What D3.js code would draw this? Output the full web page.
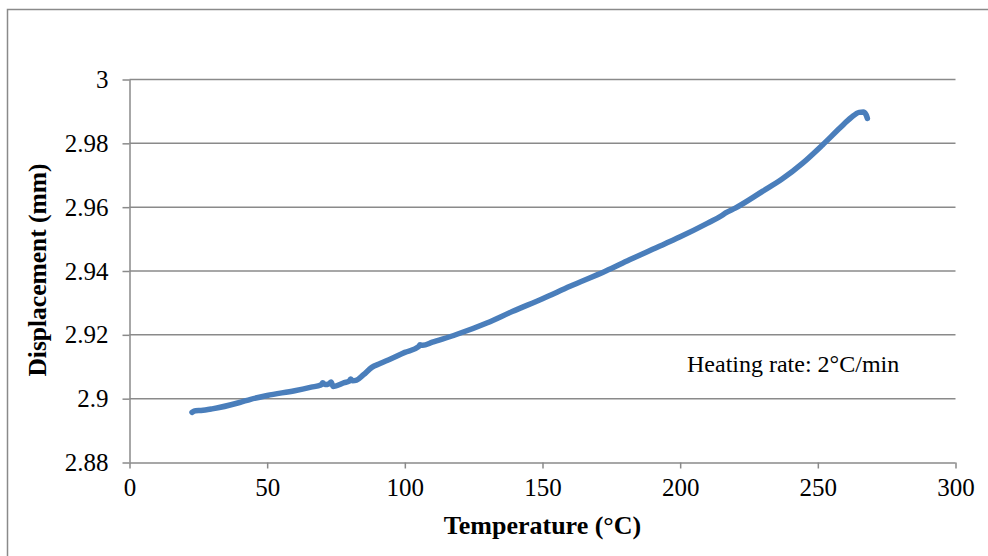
<!DOCTYPE html>
<html><head><meta charset="utf-8">
<script src="https://cdn.jsdelivr.net/npm/d3@7"></script>
<style>html,body{margin:0;padding:0;background:#fff;}svg{display:block;}</style>
</head><body>
<svg id="c" width="988" height="556"></svg>
<script>
const temperature = [22.7,24,26,30,40,44,50,60,66,69.5,70.2,71,72.5,73.2,74,78,79.8,80.3,81,82.5,85,88,91,95,100,105,105.5,106.5,110,118.7,130,139,150,160,173,181.6,190,200,210,215,216.5,220,230,237,244.5,251.7,258,262,265,266.5,267.5,268];
const displacement = [2.8957,2.8962,2.8963,2.8968,2.8988,2.8998,2.9010,2.9025,2.9036,2.9043,2.9050,2.9044,2.9047,2.9052,2.9038,2.9050,2.9055,2.9062,2.9056,2.9058,2.9075,2.9098,2.9110,2.9125,2.9145,2.9163,2.9169,2.9167,2.9177,2.9201,2.9238,2.9273,2.9313,2.9352,2.9400,2.9435,2.9468,2.9507,2.9550,2.9573,2.9582,2.9597,2.9650,2.9688,2.9738,2.9795,2.9848,2.9880,2.9897,2.9898,2.9890,2.9878];
const xTicks = [0,50,100,150,200,250,300];
const yTicks = [2.88,2.9,2.92,2.94,2.96,2.98,3];
const xTitle = "Temperature (°C)";
const yTitle = "Displacement (mm)";
const note = "Heating rate: 2°C/min";

const svg = d3.select("#c");
const x = d3.scaleLinear().domain([0,300]).range([129.5,955.5]);
const y = d3.scaleLinear().domain([2.88,3]).range([462.5,79.5]);
const font = "Liberation Serif, Times New Roman, serif";

svg.append("rect").attr("x",7.5).attr("y",9.5).attr("width",1100).attr("height",700)
  .attr("fill","#fff").attr("stroke","#8a8a8a").attr("stroke-width",1.5);

svg.append("g").selectAll("line").data(yTicks.slice(1)).join("line")
  .attr("x1",x(0)).attr("x2",x(300)).attr("y1",d=>y(d)).attr("y2",d=>y(d))
  .attr("stroke","#8a8a8a").attr("stroke-width",1.5);

const ya = svg.append("g").attr("transform",`translate(${x(0)},0)`)
  .call(d3.axisLeft(y).tickValues(yTicks).tickSize(7).tickPadding(14).tickFormat(d=>String(+d.toFixed(2))));
const xa = svg.append("g").attr("transform",`translate(0,${y(2.88)})`)
  .call(d3.axisBottom(x).tickValues(xTicks).tickSize(6).tickPadding(6).tickFormat(d3.format("d")));
[ya,xa].forEach(a=>{
  a.attr("font-family",null).attr("font-size",null);
  a.select(".domain").attr("stroke","#8a8a8a").attr("stroke-width",1.5);
  a.selectAll(".tick line").attr("stroke","#8a8a8a").attr("stroke-width",1.5);
  a.selectAll("text").style("font-family",font).style("font-size","25px").attr("fill","#000");
});
xa.selectAll("text").attr("dy","0.71em").attr("y",16);
xa.select(".domain").attr("d",`M${x(0)},0.5H${x(300)}`);
ya.select(".domain").attr("d",`M0.5,${y(3)}V${y(2.88)}`);

const line = d3.line().x((d,i)=>x(temperature[i])).y(d=>y(d)).curve(d3.curveMonotoneX);
svg.append("path").datum(displacement).attr("d",line).attr("fill","none")
  .attr("stroke","#4a7ebb").attr("stroke-width",5.5).attr("stroke-linejoin","round").attr("stroke-linecap","round");

svg.append("text").attr("x",542.5).attr("y",534).attr("text-anchor","middle")
  .style("font-family",font).attr("font-weight","bold").style("font-size","26px").text(xTitle);
svg.append("text").attr("transform","translate(46,270) rotate(-90)").attr("text-anchor","middle")
  .style("font-family",font).attr("font-weight","bold").style("font-size","25.5px").text(yTitle);
svg.append("text").attr("x",687).attr("y",372).style("font-family",font).style("font-size","24px").text(note);
</script>
</body></html>
